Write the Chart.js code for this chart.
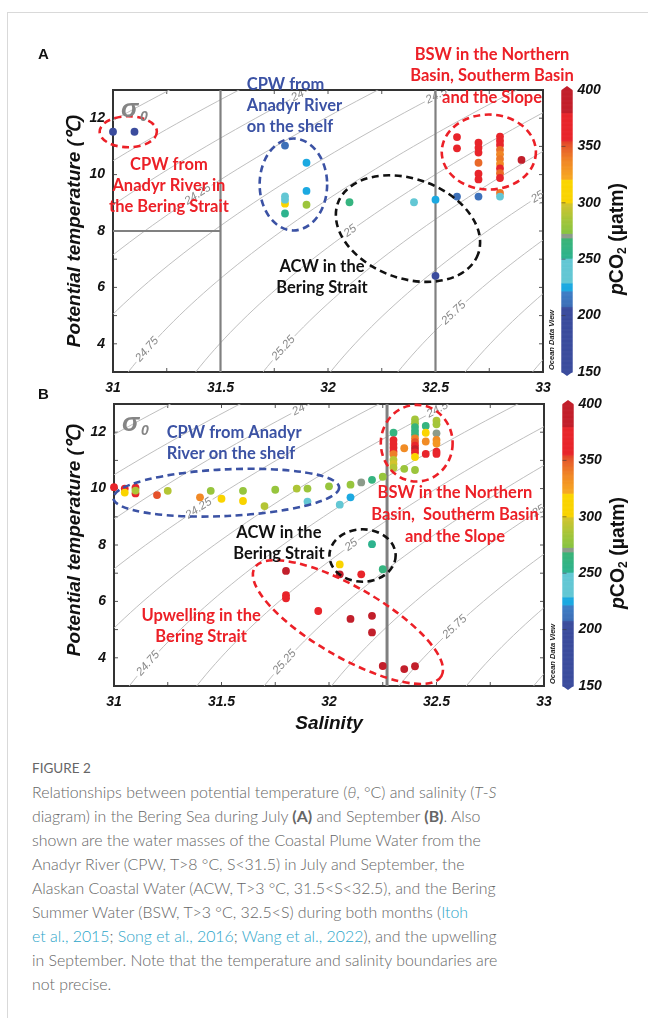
<!DOCTYPE html>
<html>
<head>
<meta charset="utf-8">
<script src="https://cdn.jsdelivr.net/npm/chart.js@4.4.1/dist/chart.umd.min.js"></script>
<style>
html,body{margin:0;padding:0;background:#fff;}
body{position:relative;width:648px;height:1018px;overflow:hidden;}
#frame{position:absolute;left:7px;top:12px;width:641px;height:1006px;border-left:1px solid #d9d9d9;border-top:1px solid #d9d9d9;}
canvas{position:absolute;left:0;}
#ca{top:30px;}
#cb{top:380px;}
#figlabel{position:absolute;left:32px;top:760px;font:400 13.5px Lato,"Open Sans",sans-serif;line-height:16px;color:#666;}
#caption{position:absolute;left:32px;top:780px;font-family:Lato,"Open Sans",sans-serif;font-weight:300;color:#666;line-height:24px;white-space:nowrap;font-size:16px;}
#caption a{color:#2ca5c9;text-decoration:none;}
#caption b{font-weight:700;}
</style>
</head>
<body>
<div id="frame"></div>
<canvas id="ca" width="648" height="380"></canvas>
<canvas id="cb" width="648" height="360"></canvas>
<div id="figlabel">FIGURE 2</div>
<div id="caption"><span class="ln">Relationships between potential temperature (<i>θ</i>, °C) and salinity (<i>T</i>-<i>S</i></span><br><span class="ln">diagram) in the Bering Sea during July <b>(A)</b> and September <b>(B)</b>. Also</span><br><span class="ln">shown are the water masses of the Coastal Plume Water from the</span><br><span class="ln">Anadyr River (CPW, T&gt;8 °C, S&lt;31.5) in July and September, the</span><br><span class="ln">Alaskan Coastal Water (ACW, T&gt;3 °C, 31.5&lt;S&lt;32.5), and the Bering</span><br><span class="ln">Summer Water (BSW, T&gt;3 °C, 32.5&lt;S) during both months (<a>Itoh</a></span><br><span class="ln"><a>et al., 2015</a>; <a>Song et al., 2016</a>; <a>Wang et al., 2022</a>), and the upwelling</span><br><span class="ln">in September. Note that the temperature and salinity boundaries are</span><br><span class="ln">not precise.</span></div>
<script>
// ---------------- data ----------------
const salTicks = [31, 31.5, 32, 32.5, 33];
const tempTicks = [4, 6, 8, 10, 12];
const pco2Ticks = [150, 200, 250, 300, 350, 400];
const minorSalTicks = [31.25, 31.5, 31.75, 32, 32.25, 32.5, 32.75];
const minorTempTicks = [4, 5, 6, 7, 8, 9, 10, 11, 12];

const contourLevels = [23.25, 23.5, 23.75, 24, 24.25, 24.5, 24.75, 25, 25.25, 25.5, 25.75, 26, 26.25, 26.5];
const contourLabelLevels = [24, 24.25, 24.5, 24.75, 25, 25.25, 25.5, 25.75];
const contourLabelTemps = [12.8, 9.3, 12.8, 3.8, 8.0, 3.85, 9.3, 5.1];

// July (A)
const julySal = [31.00,31.10,31.80,31.90,31.90,31.80,31.80,31.80,31.90,31.80,32.10,32.40,32.50,32.60,32.70,32.80,32.80,32.50,32.60,32.60,32.70,32.70,32.70,32.70,32.70,32.70,32.80,32.80,32.80,32.80,32.80,32.80,32.80,32.80,32.80,32.80,32.90];
const julyTemp = [11.52,11.52,11.03,10.42,9.42,8.97,9.11,9.23,8.93,8.62,9.02,9.02,9.11,9.22,9.22,9.35,9.22,6.41,11.33,10.93,11.13,10.95,10.78,10.42,10.03,9.83,11.35,11.20,11.05,10.88,10.72,10.55,10.38,10.22,10.05,9.88,10.52];
const julyPco2 = [205,205,210,225,225,308,242,242,282,252,262,242,225,210,212,342,242,180,370,370,368,372,370,346,370,372,370,372,368,345,338,342,336,365,345,370,392];

// September (B)
const septSal = [31.00,31.05,31.05,31.10,31.10,31.10,31.20,31.25,31.40,31.45, 31.50,31.60,31.60,31.70,31.75,31.85,31.90,31.90,32.00,32.05, 32.10,32.10,32.15,32.20,32.25,32.35,32.40, 32.30,32.30,32.30,32.30,32.30,32.30,32.30,32.30,32.30,32.35, 32.40,32.40,32.40,32.40,32.40,32.40,32.40,32.40,32.40,32.40,32.40, 32.45,32.45,32.45,32.45, 32.50,32.50,32.50,32.50,32.50,32.50,32.50, 32.20,32.05,32.25,32.05,32.15,31.80,31.80,31.80,31.95,32.10,32.20,32.20,32.25,32.35,32.40];
const septTemp = [10.05,10.00,9.86,9.83,10.03,9.93,9.77,9.92,9.69,9.92, 9.64,9.92,9.56,9.38,9.96,10.00,10.00,9.54,10.08,9.43, 10.14,9.69,10.22,10.31,10.42,10.70,10.66, 11.98,11.72,11.58,11.45,11.32,11.22,11.02,10.88,10.74,11.43, 12.45,12.32,12.18,12.05,11.92,11.78,11.65,11.52,11.40,11.28,11.12, 12.22,11.98,11.67,11.23, 12.41,12.28,11.96,11.73,11.60,11.31,11.23, 8.03,7.31,7.14,6.96,6.96,7.08,6.22,6.11,5.66,5.38,5.49,4.90,3.71,3.60,3.70];
const septPco2 = [372,372,312,368,370,288,352,290,336,280, 312,280,302,290,280,288,282,248,280,240, 280,225,272,262,280,282,282, 262,372,370,375,366,340,292,300,290,335, 285,282,265,262,264,340,352,372,388,375,312, 262,318,335,370, 288,285,272,335,330,372,368, 252,312,262,385,370,385,372,372,372,385,385,385,385,388,388];

// water-mass boundary lines [salinity, temperature]
const julyBoundaryLines = [[[31.5,3],[31.5,13]], [[31,8],[31.5,8]], [[32.5,3],[32.5,13]]];
const septBoundaryLines = [[[32.27,3],[32.27,13]]];

// ---------------- colour map (ODV style) ----------------
const cmapStops = [[150,'#3b4c9d'],[208,'#3b4c9d'],[208.01,'#3d6db6'],[222,'#3f80c6'],[222.01,'#1ca9e1'],[229,'#1ca9e1'],[229.01,'#63c7d4'],[251,'#63c7d4'],[251.01,'#2db38f'],[269,'#3bb476'],[269.01,'#8c9b8b'],[273,'#8c9b8b'],[273.01,'#86c441'],[285,'#a4c53a'],[300,'#d3c42c'],[300.01,'#f8d300'],[321,'#fbd500'],[321.01,'#f7ab22'],[338,'#f08526'],[350,'#e65b2a'],[355,'#e3432a'],[355.01,'#e8252b'],[380,'#e8252b'],[380.01,'#c21f2b'],[400,'#c21f2b']];
function hex2rgb(h){return [parseInt(h.substr(1,2),16),parseInt(h.substr(3,2),16),parseInt(h.substr(5,2),16)];}
function colorFor(v){
  if(v<=cmapStops[0][0]) return cmapStops[0][1];
  for(let i=1;i<cmapStops.length;i++){
    if(v<=cmapStops[i][0]){
      const [v0,c0]=cmapStops[i-1],[v1,c1]=cmapStops[i];
      const f=(v-v0)/(v1-v0), a=hex2rgb(c0), b=hex2rgb(c1);
      return 'rgb('+a.map((q,k)=>Math.round(q+(b[k]-q)*f)).join(',')+')';
    }
  }
  return cmapStops[cmapStops.length-1][1];
}

// ---------------- sigma-0 (UNESCO EOS-80, p=0) ----------------
function rhoWater(T){return 999.842594+6.793952e-2*T-9.095290e-3*T*T+1.001685e-4*T**3-1.120083e-6*T**4+6.536332e-9*T**5;}
function sigma0(S,T){
  const A=8.24493e-1-4.0899e-3*T+7.6438e-5*T*T-8.2467e-7*T**3+5.3875e-9*T**4;
  const B=-5.72466e-3+1.0227e-4*T-1.6546e-6*T*T;
  return rhoWater(T)+A*S+B*Math.pow(S,1.5)+4.8314e-4*S*S-1000;
}
function salinityAt(sig,T){let lo=20,hi=40;for(let i=0;i<60;i++){const m=(lo+hi)/2;if(sigma0(m,T)<sig)lo=m;else hi=m;}return (lo+hi)/2;}
const contourTemps=[];for(let t=1;t<=15.001;t+=0.2)contourTemps.push(t);

const FONT='"Liberation Sans", Arial, sans-serif';
const ANN='Lato, "Open Sans", sans-serif';
const RED='#ec2027', BLUE='#3b52a4', BLACK='#111111';

function drawRotText(ctx,parts,cx,cy){
  ctx.save();ctx.translate(cx,cy);ctx.rotate(-Math.PI/2);
  let tot=0;parts.forEach(p=>{ctx.font=p.f;p.w=ctx.measureText(p.t).width;tot+=p.w;});
  let xx=-tot/2;ctx.textBaseline='middle';ctx.textAlign='left';ctx.fillStyle='#111';
  parts.forEach(p=>{ctx.font=p.f;ctx.fillText(p.t,xx,p.dy||0);xx+=p.w;});
  ctx.restore();
}

function makePlugin(cfg){
  return {
    id:'tsPanel',
    beforeDatasetsDraw(chart){
      const {ctx,chartArea:a,scales:{x,y}}=chart;
      ctx.save();
      ctx.strokeStyle='#555';ctx.lineWidth=1;ctx.beginPath();
      minorSalTicks.forEach(s=>{const p=x.getPixelForValue(s);ctx.moveTo(p,a.bottom);ctx.lineTo(p,a.bottom-4);ctx.moveTo(p,a.top);ctx.lineTo(p,a.top+4);});
      minorTempTicks.forEach(t=>{const p=y.getPixelForValue(t);ctx.moveTo(a.left,p);ctx.lineTo(a.left+4,p);ctx.moveTo(a.right,p);ctx.lineTo(a.right-4,p);});
      ctx.stroke();
      ctx.strokeStyle='#333';ctx.lineWidth=2;ctx.strokeRect(a.left,a.top,a.right-a.left,a.bottom-a.top);
      ctx.restore();
    },
    afterDatasetDraw(chart,args){
      const ds=chart.data.datasets[args.index];
      if(ds.labelTemp==null)return;
      const {ctx,chartArea:a,scales:{x,y}}=chart;
      const T=ds.labelTemp,L=ds.level;
      const px=x.getPixelForValue(salinityAt(L,T)),py=y.getPixelForValue(T);
      const p1x=x.getPixelForValue(salinityAt(L,T-0.2)),p1y=y.getPixelForValue(T-0.2);
      const p2x=x.getPixelForValue(salinityAt(L,T+0.2)),p2y=y.getPixelForValue(T+0.2);
      const ang=Math.atan2(p2y-p1y,p2x-p1x);
      ctx.save();
      ctx.beginPath();ctx.rect(a.left+1,a.top+1,a.right-a.left-2,a.bottom-a.top-2);ctx.clip();
      ctx.translate(px,py);ctx.rotate(ang);
      ctx.font='italic 11.5px '+FONT;
      const txt=String(L),w=ctx.measureText(txt).width;
      ctx.fillStyle='#fff';ctx.fillRect(-w/2-2,-6,w+4,12);
      ctx.fillStyle='#8a8a8a';ctx.textAlign='center';ctx.textBaseline='middle';
      ctx.fillText(txt,0,0);
      ctx.restore();
    },
    afterDatasetsDraw(chart){
      const {ctx,chartArea:a,scales:{x,y}}=chart;
      ctx.save();
      cfg.ellipses.forEach(e=>{
        const cx=x.getPixelForValue(e.s),cy=y.getPixelForValue(e.t);
        const rx=Math.abs(x.getPixelForValue(e.s+e.rs)-cx),ry=Math.abs(y.getPixelForValue(e.t+e.rt)-cy);
        ctx.beginPath();ctx.ellipse(cx,cy,rx,ry,(e.rot||0)*Math.PI/180,0,Math.PI*2);
        ctx.setLineDash([7,4.5]);ctx.lineWidth=2.6;ctx.strokeStyle=e.color;ctx.stroke();
      });
      ctx.setLineDash([]);
      cfg.texts.forEach(tb=>{
        ctx.font='bold 16.5px '+ANN;ctx.fillStyle=tb.color;ctx.textAlign=tb.align;ctx.textBaseline='middle';
        const px=x.getPixelForValue(tb.s),py=y.getPixelForValue(tb.t);
        tb.lines.forEach((ln,i)=>ctx.fillText(ln,px,py+i*tb.lh));
      });
      ctx.fillStyle='#858585';ctx.textAlign='left';ctx.textBaseline='alphabetic';
      ctx.font='italic bold 26px '+FONT;ctx.fillText('σ',a.left+8,a.top+27);
      ctx.font='italic bold 14px '+FONT;ctx.fillText('0',a.left+27,a.top+31);
      const x0=a.right+18.5,w=11,top=a.top,bot=a.bottom;
      const vmin=pco2Ticks[0],vmax=pco2Ticks[pco2Ticks.length-1];
      const vy=v=>top+(vmax-v)/(vmax-vmin)*(bot-top);
      for(let v=vmin;v<vmax;v+=0.5){ctx.fillStyle=colorFor(v+0.25);ctx.fillRect(x0,vy(v+0.5),w,vy(v)-vy(v+0.5)+0.6);}
      ctx.fillStyle=colorFor(vmax);ctx.beginPath();ctx.moveTo(x0,top);ctx.lineTo(x0+w/2,top-4);ctx.lineTo(x0+w,top);ctx.fill();
      ctx.fillStyle=colorFor(vmin);ctx.beginPath();ctx.moveTo(x0,bot);ctx.lineTo(x0+w/2,bot+4);ctx.lineTo(x0+w,bot);ctx.fill();
      ctx.strokeStyle='rgba(60,60,60,0.6)';ctx.lineWidth=1;ctx.beginPath();
      pco2Ticks.slice(1,-1).forEach(v=>{ctx.moveTo(x0,vy(v));ctx.lineTo(x0+4,vy(v));});ctx.stroke();
      ctx.fillStyle='#111';ctx.font='italic bold 14px '+FONT;ctx.textAlign='left';ctx.textBaseline='middle';
      pco2Ticks.forEach(v=>ctx.fillText(String(v),x0+16,vy(v)));
      drawRotText(ctx,[{t:'p',f:'italic bold 19.5px '+FONT},{t:'CO',f:'bold 19.5px '+FONT},{t:'2',f:'bold 12px '+FONT,dy:5},{t:' (µatm)',f:'bold 19.5px '+FONT}],a.right+75,(a.top+a.bottom)/2+8);
      ctx.save();ctx.translate(a.right+9,a.bottom-2);ctx.rotate(-Math.PI/2);
      ctx.font='italic bold 7.5px '+FONT;ctx.fillStyle='#222';ctx.textAlign='left';ctx.textBaseline='middle';
      ctx.fillText('Ocean Data View',0,0);ctx.restore();
      drawRotText(ctx,[{t:'Potential temperature (℃)',f:'italic bold 19px '+FONT}],75,(a.top+a.bottom)/2+cfg.ytOff);
      if(cfg.xTitle){ctx.font='italic bold 19px '+FONT;ctx.fillStyle='#111';ctx.textAlign='center';ctx.textBaseline='middle';ctx.fillText(cfg.xTitle,(a.left+a.right)/2,a.bottom+38);}
      ctx.font='bold 15px '+FONT;ctx.fillStyle='#111';ctx.textAlign='left';ctx.textBaseline='middle';
      ctx.fillText(cfg.letter,cfg.letterX,cfg.letterY);
      ctx.restore();
    }
  };
}

function buildChart(id,cfg){
  const datasets=[];
  contourLevels.forEach(lev=>{
    const k=contourLabelLevels.indexOf(lev);
    datasets.push({data:contourTemps.map(t=>({x:salinityAt(lev,t),y:t})),showLine:true,borderColor:'#b8b8b8',borderWidth:0.9,pointRadius:0,order:10,level:lev,labelTemp:k>=0?contourLabelTemps[k]:null});
  });
  cfg.bounds.forEach(b=>datasets.push({data:b.map(p=>({x:p[0],y:p[1]})),showLine:true,borderColor:'#808080',borderWidth:cfg.boundWidth,pointRadius:0,order:5}));
  datasets.push({data:cfg.sal.map((s,i)=>({x:s,y:cfg.temp[i]})),backgroundColor:cfg.pco2.map(colorFor),pointRadius:3.9,borderWidth:0,order:0,clip:false});
  const tickFont={family:FONT,size:14,weight:'bold',style:'italic'};
  return new Chart(document.getElementById(id),{
    type:'scatter',
    data:{datasets},
    options:{
      responsive:false,animation:false,devicePixelRatio:1,events:[],
      layout:{padding:{left:0,right:648-cfg.right,top:cfg.top,bottom:0}},
      plugins:{legend:{display:false},tooltip:{enabled:false}},
      scales:{
        x:{type:'linear',min:31,max:33,grid:{display:false,drawTicks:false},border:{display:false},
           ticks:{font:tickFont,color:'#111',padding:8,maxRotation:0,autoSkip:false,callback:v=>String(v)},
           afterBuildTicks:s=>{s.ticks=salTicks.map(v=>({value:v}));},
           afterFit:s=>{s.height=cfg.xh;}},
        y:{type:'linear',min:3,max:13,grid:{display:false,drawTicks:false},border:{display:false},
           ticks:{font:tickFont,color:'#111',padding:8,autoSkip:false,callback:v=>String(v)},
           afterBuildTicks:s=>{s.ticks=tempTicks.map(v=>({value:v}));},
           afterFit:s=>{s.width=cfg.left;}}
      }
    },
    plugins:[makePlugin(cfg)]
  });
}

buildChart('ca',{
  sal:julySal,temp:julyTemp,pco2:julyPco2,bounds:julyBoundaryLines,boundWidth:2.2,
  left:113,right:543,top:60,xh:38,letter:'A',letterX:38,letterY:25,ytOff:0,
  ellipses:[
    {s:31.071,t:11.52,rs:0.133,rt:0.55,color:RED},
    {s:31.839,t:9.65,rs:0.157,rt:1.63,color:BLUE},
    {s:32.372,t:8.085,rs:0.347,rt:1.765,rot:20,color:BLACK},
    {s:32.748,t:10.80,rs:0.219,rt:1.33,color:RED}
  ],
  texts:[
    {lines:['CPW from','Anadyr River in','the Bering Strait'],s:31.26,t:10.36,lh:21,align:'center',color:RED},
    {lines:['CPW from','Anadyr River','on the shelf'],s:31.622,t:13.2,lh:21,align:'left',color:BLUE},
    {lines:['ACW in the','Bering Strait'],s:31.972,t:6.75,lh:21,align:'center',color:BLACK},
    {lines:['BSW in the Northern','Basin, Southerm Basin','and the Slope'],s:32.763,t:14.26,lh:21.5,align:'center',color:RED}
  ]
});
buildChart('cb',{
  sal:septSal,temp:septTemp,pco2:septPco2,bounds:septBoundaryLines,boundWidth:3,
  left:114,right:544,top:24,xh:54,letter:'B',letterX:38,letterY:15,ytOff:-5,xTitle:'Salinity',
  ellipses:[
    {s:31.522,t:9.855,rs:0.526,rt:0.827,rot:-2.7,color:BLUE},
    {s:32.156,t:7.627,rs:0.154,rt:0.93,color:BLACK},
    {s:32.088,t:5.267,rs:0.502,rt:1.242,rot:30,color:RED},
    {s:32.408,t:11.61,rs:0.167,rt:1.36,color:RED}
  ],
  texts:[
    {lines:['CPW from Anadyr','River on the shelf'],s:31.245,t:11.97,lh:21,align:'left',color:BLUE},
    {lines:['ACW in the','Bering Strait'],s:31.767,t:8.43,lh:21,align:'center',color:BLACK},
    {lines:['Upwelling in the','Bering Strait'],s:31.405,t:5.48,lh:21,align:'center',color:RED},
    {lines:['BSW in the Northern','Basin,  Southerm Basin','and the Slope'],s:32.586,t:9.84,lh:22,align:'center',color:RED}
  ]
});

(function(){
  const cap=document.getElementById('caption');
  const ln=cap.querySelectorAll('.ln');
  const w=ln[0].getBoundingClientRect().width;
  if(w>0)cap.style.fontSize=(16*465/w)+'px';
})();
</script>
</body>
</html>
